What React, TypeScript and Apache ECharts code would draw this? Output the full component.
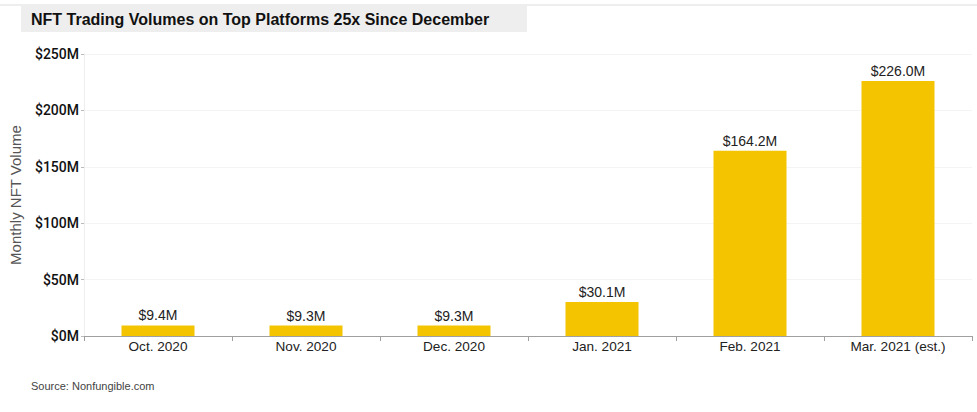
import React, { useEffect, useRef } from "react";
import * as echarts from "echarts";

const categories = ["Oct. 2020", "Nov. 2020", "Dec. 2020", "Jan. 2021", "Feb. 2021", "Mar. 2021 (est.)"];
const volumes = [9.4, 9.3, 9.3, 30.1, 164.2, 226.0];
const yTicks = [0, 50, 100, 150, 200, 250];
const titleText = "NFT Trading Volumes on Top Platforms 25x Since December";
const sourceText = "Source: Nonfungible.com";
const yAxisName = "Monthly NFT Volume";

const FONT = "'Liberation Sans', Arial, Helvetica, sans-serif";

export default function App() {
  const ref = useRef<HTMLDivElement>(null);
  useEffect(() => {
    if (!ref.current) return;
    const chart = echarts.init(ref.current, undefined, { renderer: "svg" });
    chart.setOption({
      animation: false,
      backgroundColor: "#ffffff",
      textStyle: { fontFamily: FONT },
      grid: { left: 81, right: 5, top: 54, bottom: 76, containLabel: false },
      xAxis: {
        type: "category",
        data: categories,
        axisLine: { show: true, lineStyle: { color: "#a0a0a0", width: 1 } },
        axisTick: { show: true, alignWithLabel: false, length: 5, lineStyle: { color: "#a0a0a0" } },
        axisLabel: { color: "#222", fontSize: 13.6, margin: 3, fontFamily: FONT },
      },
      yAxis: {
        type: "value",
        min: yTicks[0],
        max: yTicks[yTicks.length - 1],
        interval: 50,
        name: yAxisName,
        nameLocation: "middle",
        nameGap: 61,
        nameTextStyle: { color: "#555", fontSize: 15, fontFamily: FONT },
        axisLine: { show: true, lineStyle: { color: "#eeeeee" } },
        axisTick: { show: true, length: 3, lineStyle: { color: "#bbbbbb" } },
        axisLabel: {
          color: "#111",
          fontSize: 14,
          fontWeight: 500,
          margin: 5,
          fontFamily: "Roboto, 'Liberation Sans', Arial, sans-serif",
          formatter: (v: number) => `$${v}M`,
        },
        splitLine: { show: true, lineStyle: { color: "#f4f4f4" } },
      },
      series: [
        {
          type: "bar",
          data: volumes,
          barWidth: 73,
          itemStyle: { color: "#F5C400" },
          label: {
            show: true,
            position: "top",
            distance: 3,
            color: "#222",
            fontSize: 14,
            fontFamily: FONT,
            formatter: (p: any) => `$${Number(p.value).toFixed(1)}M`,
          },
        },
      ],
      graphic: [
        { type: "line", shape: { x1: 0, y1: 5, x2: 977, y2: 5 }, style: { stroke: "#dddddd", lineWidth: 1 } },
        { type: "rect", shape: { x: 21, y: 6, width: 506, height: 26 }, style: { fill: "#eeeeee" } },
        {
          type: "text",
          x: 31,
          y: 19,
          style: {
            text: titleText,
            fill: "#111",
            font: `bold 16px ${FONT}`,
            verticalAlign: "middle",
          },
        },
        {
          type: "text",
          x: 31,
          y: 386,
          style: {
            text: sourceText,
            fill: "#444",
            font: `11px ${FONT}`,
            verticalAlign: "middle",
          },
        },
      ],
    });
    return () => chart.dispose();
  }, []);
  return (
    <div
      ref={ref}
      style={{ position: "fixed", left: 0, top: 0, width: 977, height: 412 }}
    />
  );
}
